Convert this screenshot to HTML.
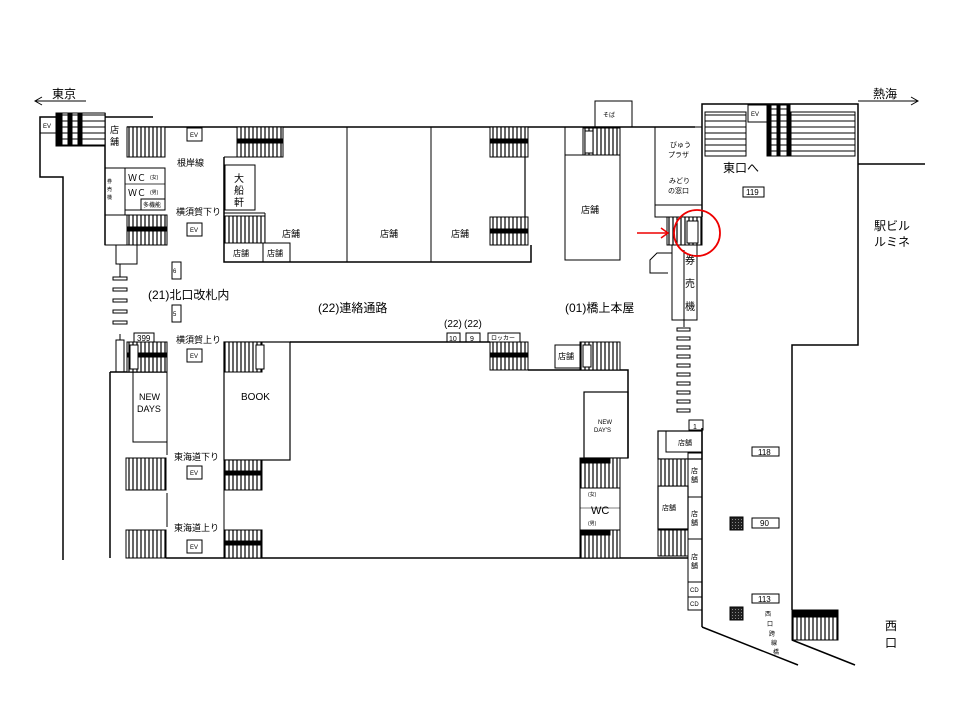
<!DOCTYPE html>
<html><head><meta charset="utf-8"><style>
html,body{margin:0;padding:0;background:#fff;}
svg{display:block;font-family:"Liberation Sans","Noto Sans CJK JP",sans-serif;}
</style></head><body>
<svg width="960" height="720" viewBox="0 0 960 720" xmlns="http://www.w3.org/2000/svg">
<defs>
<pattern id="sv" width="4" height="10" patternUnits="userSpaceOnUse"><rect width="4" height="10" fill="#fff"/><line x1="1" y1="0" x2="1" y2="10" stroke="#000" stroke-width="1.2"/></pattern>
<pattern id="sh" width="10" height="6" patternUnits="userSpaceOnUse"><rect width="10" height="6" fill="#fff"/><line x1="0" y1="1" x2="10" y2="1" stroke="#000" stroke-width="1"/></pattern>
<pattern id="dk" width="3" height="3" patternUnits="userSpaceOnUse"><rect width="3" height="3" fill="#222"/><rect width="1" height="1" fill="#888"/></pattern>
</defs>
<g fill="none" stroke="#000" stroke-width="1.5">
<!-- arrows -->
<line x1="35" y1="101" x2="86" y2="101" stroke-width="1"/><polyline points="42,97 35,101 42,105" stroke-width="1"/>
<line x1="858" y1="101" x2="918" y2="101" stroke-width="1"/><polyline points="911,97 918,101 911,105" stroke-width="1"/>
<!-- left outer -->
<polyline points="153,117 40,117 40,177 63,177 63,560"/>
<line x1="110" y1="372" x2="110" y2="558"/>
<line x1="105" y1="113" x2="105" y2="245"/>
<line x1="127" y1="127" x2="695" y2="127"/>
<line x1="166" y1="558" x2="688" y2="558"/>
<!-- left column -->
<rect x="105" y="168" width="20" height="47" stroke-width="1"/>
<rect x="125" y="168" width="40" height="42" stroke-width="1"/>
<line x1="125" y1="184" x2="165" y2="184" stroke-width="0.7"/>
<rect x="141" y="199" width="24" height="11" stroke-width="1"/>
<rect x="105" y="215" width="22" height="30" stroke-width="1"/>
<rect x="116" y="245" width="21" height="19" stroke-width="1"/>
<line x1="120" y1="264" x2="120" y2="277" stroke-width="1"/>
<line x1="110" y1="372" x2="167" y2="372"/>
<rect x="133" y="372" width="34" height="70" stroke-width="1"/>
<rect x="116" y="340" width="8" height="32" stroke-width="1"/>
<line x1="120" y1="334" x2="120" y2="340" stroke-width="1"/>
<line x1="167" y1="372" x2="167" y2="455" stroke-width="1"/>
<line x1="167" y1="493" x2="167" y2="527" stroke-width="1"/>
<!-- middle top block -->
<polyline points="224,157 224,262 531,262 531,245" />
<line x1="237" y1="127" x2="237" y2="157" stroke-width="1"/>
<line x1="224" y1="157" x2="237" y2="157" stroke-width="1"/>
<rect x="225" y="165" width="30" height="45" stroke-width="1"/>
<line x1="224" y1="213" x2="265" y2="213" stroke-width="1"/>
<line x1="265" y1="213" x2="265" y2="243" stroke-width="1"/>
<rect x="224" y="243" width="39" height="19" stroke-width="1"/>
<rect x="263" y="243" width="27" height="19" stroke-width="1"/>
<line x1="347" y1="127" x2="347" y2="262" stroke-width="1"/>
<line x1="431" y1="127" x2="431" y2="262" stroke-width="1"/>
<line x1="525" y1="157" x2="525" y2="217" stroke-width="1.2"/>
<!-- right top -->
<rect x="595" y="101" width="37" height="26" stroke-width="1"/>
<rect x="565" y="127" width="55" height="133" stroke-width="1"/>
<line x1="565" y1="155" x2="620" y2="155" stroke-width="1"/>
<rect x="655" y="127" width="47" height="78" stroke-width="1"/>
<rect x="655" y="205" width="47" height="12" stroke-width="1"/>
<rect x="672" y="245" width="25" height="75" stroke-width="1"/>
<line x1="684" y1="250" x2="684" y2="320" stroke-width="1"/>
<polyline points="672,253 657,253 650,260 650,273 668,273" stroke-width="1"/>
<line x1="684" y1="320" x2="684" y2="327" stroke-width="1"/>
<!-- east -->
<polyline points="702,127 702,104 858,104 858,345 792,345 792,610"/>
<line x1="858" y1="164" x2="925" y2="164"/>
<line x1="702" y1="127" x2="702" y2="217" stroke-width="1.5"/>
<rect x="748" y="105" width="19" height="17" stroke-width="1"/>
<!-- lower middle -->
<line x1="290" y1="342" x2="490" y2="342"/>
<rect x="224" y="342" width="66" height="118" stroke-width="1.2"/>
<line x1="224" y1="490" x2="224" y2="530" stroke-width="1"/>
<rect x="447" y="333" width="13" height="9" stroke-width="1"/>
<rect x="466" y="333" width="14" height="9" stroke-width="1"/>
<rect x="488" y="333" width="32" height="9" stroke-width="1"/>
<rect x="555" y="345" width="25" height="23" stroke-width="1"/>
<polyline points="528,370 628,370 628,458"/>
<rect x="584" y="392" width="44" height="66" stroke-width="1.2"/>
<rect x="580" y="488" width="40" height="42" stroke-width="1"/>
<line x1="580" y1="508" x2="620" y2="508" stroke-width="0.6"/>
<!-- right lower -->
<rect x="689" y="420" width="14" height="10" stroke-width="1"/>
<rect x="658" y="431" width="44" height="28" stroke-width="1.2"/>
<rect x="666" y="431" width="36" height="21" stroke-width="1"/>
<rect x="658" y="486" width="30" height="43" stroke-width="1.2"/>
<rect x="688" y="453" width="14" height="44" stroke-width="1"/>
<rect x="688" y="497" width="14" height="42" stroke-width="1"/>
<rect x="688" y="539" width="14" height="43" stroke-width="1"/>
<rect x="688" y="582" width="14" height="15" stroke-width="1"/>
<rect x="688" y="597" width="14" height="13" stroke-width="1"/>
<line x1="702" y1="428" x2="702" y2="627"/>
<line x1="702" y1="627" x2="798" y2="665"/>
<line x1="792" y1="640" x2="855" y2="665"/>
<rect x="752" y="447" width="27" height="9" stroke-width="1"/>
<rect x="752" y="518" width="27" height="10" stroke-width="1"/>
<rect x="752" y="594" width="27" height="9" stroke-width="1"/>
<!-- EV boxes -->
<rect x="187" y="128" width="15" height="13" stroke-width="1"/>
<rect x="187" y="223" width="15" height="13" stroke-width="1"/>
<rect x="187" y="349" width="15" height="13" stroke-width="1"/>
<rect x="187" y="466" width="15" height="13" stroke-width="1"/>
<rect x="187" y="540" width="15" height="13" stroke-width="1"/>
<rect x="40" y="117" width="16" height="16" stroke-width="1"/>
<!-- small boxes -->
<rect x="172" y="262" width="9" height="17" stroke-width="1"/>
<rect x="172" y="305" width="9" height="17" stroke-width="1"/>
<rect x="134" y="333" width="20" height="9" stroke-width="1"/>
<rect x="743" y="187" width="21" height="10" stroke-width="1"/>
</g>
<!-- stairs -->
<g stroke="#000" stroke-width="1">
<rect x="56" y="113" width="49" height="33" fill="url(#sh)"/>
<rect x="56" y="113" width="6" height="33" fill="#000"/><rect x="68" y="113" width="4" height="33" fill="#000"/><rect x="78" y="113" width="4" height="33" fill="#000"/>
<rect x="127" y="127" width="38" height="30" fill="url(#sv)"/>
<rect x="127" y="215" width="40" height="30" fill="url(#sv)"/><rect x="127" y="227" width="40" height="4" fill="#000"/>
<rect x="127" y="342" width="40" height="30" fill="url(#sv)"/><rect x="127" y="353" width="40" height="4" fill="#000"/>
<rect x="130" y="345" width="8" height="24" fill="#fff"/>
<rect x="126" y="458" width="40" height="32" fill="url(#sv)"/>
<rect x="126" y="530" width="40" height="28" fill="url(#sv)"/>
<rect x="237" y="127" width="46" height="30" fill="url(#sv)"/><rect x="237" y="139" width="46" height="4" fill="#000"/>
<rect x="225" y="216" width="40" height="27" fill="url(#sv)"/>
<rect x="490" y="127" width="38" height="30" fill="url(#sv)"/><rect x="490" y="139" width="38" height="4" fill="#000"/>
<rect x="490" y="217" width="38" height="28" fill="url(#sv)"/><rect x="490" y="229" width="38" height="4" fill="#000"/>
<rect x="583" y="128" width="37" height="27" fill="url(#sv)"/><rect x="585" y="131" width="8" height="22" fill="#fff"/>
<rect x="667" y="217" width="35" height="28" fill="url(#sv)"/><rect x="687" y="221" width="11" height="22" fill="#fff"/>
<rect x="705" y="112" width="41" height="44" fill="url(#sh)"/>
<rect x="767" y="105" width="23" height="51" fill="url(#sh)"/><rect x="767" y="105" width="4" height="51" fill="#000"/><rect x="777" y="105" width="3" height="51" fill="#000"/><rect x="787" y="105" width="3" height="51" fill="#000"/>
<rect x="791" y="112" width="64" height="44" fill="url(#sh)"/>
<rect x="224" y="342" width="38" height="30" fill="url(#sv)"/><rect x="256" y="345" width="8" height="24" fill="#fff"/>
<rect x="224" y="460" width="38" height="30" fill="url(#sv)"/><rect x="224" y="471" width="38" height="4" fill="#000"/>
<rect x="224" y="530" width="38" height="28" fill="url(#sv)"/><rect x="224" y="541" width="38" height="4" fill="#000"/>
<rect x="490" y="342" width="38" height="28" fill="url(#sv)"/><rect x="490" y="353" width="38" height="4" fill="#000"/>
<rect x="580" y="342" width="40" height="28" fill="url(#sv)"/><rect x="583" y="345" width="8" height="22" fill="#fff"/>
<rect x="580" y="458" width="40" height="30" fill="url(#sv)"/><rect x="580" y="458" width="30" height="5" fill="#000"/>
<rect x="580" y="530" width="40" height="28" fill="url(#sv)"/><rect x="580" y="530" width="30" height="5" fill="#000"/>
<rect x="658" y="459" width="30" height="27" fill="url(#sv)"/>
<rect x="658" y="530" width="30" height="26" fill="url(#sv)"/>
<rect x="792" y="610" width="46" height="30" fill="url(#sv)"/><rect x="792" y="610" width="46" height="7" fill="#000"/>
<!-- gates -->
<g fill="#fff">
<rect x="113" y="277" width="14" height="3"/><rect x="113" y="288" width="14" height="3"/><rect x="113" y="299" width="14" height="3"/><rect x="113" y="310" width="14" height="3"/><rect x="113" y="321" width="14" height="3"/>
<rect x="677" y="328" width="13" height="3"/><rect x="677" y="337" width="13" height="3"/><rect x="677" y="346" width="13" height="3"/><rect x="677" y="355" width="13" height="3"/><rect x="677" y="364" width="13" height="3"/><rect x="677" y="373" width="13" height="3"/><rect x="677" y="382" width="13" height="3"/><rect x="677" y="391" width="13" height="3"/><rect x="677" y="400" width="13" height="3"/><rect x="677" y="409" width="13" height="3"/>
</g>
<rect x="730" y="517" width="13" height="13" fill="url(#dk)"/>
<rect x="730" y="607" width="13" height="13" fill="url(#dk)"/>
</g>
<!-- red -->
<circle cx="697" cy="233" r="23" fill="none" stroke="#e00" stroke-width="1.8"/>
<line x1="637" y1="233" x2="668" y2="233" stroke="#e00" stroke-width="1.5"/>
<polyline points="661,228 668,233 661,238" fill="none" stroke="#e00" stroke-width="1.5"/>
<!-- text -->
<g fill="#000" font-size="9">
<text x="52" y="98" font-size="12">東京</text>
<text x="873" y="98" font-size="12">熱海</text>
<text x="43" y="128" font-size="6">EV</text>
<text x="110" y="133" font-size="9">店</text><text x="110" y="145" font-size="9">舗</text>
<text x="107" y="183" font-size="5">券</text><text x="107" y="191" font-size="5">売</text><text x="107" y="199" font-size="5">機</text>
<text x="128" y="181" font-size="9">ＷＣ</text><text x="150" y="179" font-size="5">(女)</text>
<text x="128" y="196" font-size="9">ＷＣ</text><text x="150" y="194" font-size="5">(男)</text>
<text x="143" y="207" font-size="6">多機能</text>
<text x="177" y="166" font-size="9">根岸線</text>
<text x="176" y="215" font-size="9">横須賀下り</text>
<text x="176" y="343" font-size="9">横須賀上り</text>
<text x="174" y="460" font-size="9">東海道下り</text>
<text x="174" y="531" font-size="9">東海道上り</text>
<g font-size="6"><text x="190" y="137">EV</text><text x="190" y="232">EV</text><text x="190" y="358">EV</text><text x="190" y="475">EV</text><text x="190" y="549">EV</text><text x="751" y="116">EV</text></g>
<text x="148" y="299" font-size="12">(21)北口改札内</text>
<text x="318" y="312" font-size="12">(22)連絡通路</text>
<text x="565" y="312" font-size="12">(01)橋上本屋</text>
<text x="137" y="341" font-size="8">399</text>
<text x="139" y="400" font-size="9">NEW</text><text x="137" y="412" font-size="9">DAYS</text>
<text x="241" y="400" font-size="10">BOOK</text>
<text x="234" y="182" font-size="10">大</text><text x="234" y="194" font-size="10">船</text><text x="234" y="206" font-size="10">軒</text>
<text x="233" y="256" font-size="8">店舗</text><text x="267" y="256" font-size="8">店舗</text>
<text x="282" y="237" font-size="9">店舗</text><text x="380" y="237" font-size="9">店舗</text><text x="451" y="237" font-size="9">店舗</text>
<text x="581" y="213" font-size="9">店舗</text>
<text x="603" y="117" font-size="6">そば</text>
<text x="670" y="147" font-size="7">びゅう</text><text x="668" y="157" font-size="7">プラザ</text>
<text x="669" y="183" font-size="7">みどり</text><text x="668" y="193" font-size="7">の窓口</text>
<text x="723" y="172" font-size="12">東口へ</text>
<text x="746" y="195" font-size="8">119</text>
<text x="874" y="230" font-size="12">駅ビル</text><text x="874" y="246" font-size="12">ルミネ</text>
<text x="685" y="264" font-size="10">券</text><text x="685" y="287" font-size="10">売</text><text x="685" y="310" font-size="10">機</text>
<text x="444" y="327" font-size="10">(22)</text><text x="464" y="327" font-size="10">(22)</text>
<text x="449" y="341" font-size="7">10</text><text x="470" y="341" font-size="7">9</text>
<text x="491" y="340" font-size="6">ロッカー</text>
<text x="558" y="359" font-size="8">店舗</text>
<text x="598" y="424" font-size="6">NEW</text><text x="594" y="432" font-size="6">DAY'S</text>
<text x="588" y="496" font-size="5">(女)</text><text x="591" y="514" font-size="11">WC</text><text x="588" y="525" font-size="5">(男)</text>
<text x="693" y="429" font-size="7">1</text>
<text x="678" y="445" font-size="7">店舗</text>
<text x="662" y="510" font-size="7">店舗</text>
<text x="691" y="473" font-size="7">店</text><text x="691" y="482" font-size="7">舗</text>
<text x="691" y="516" font-size="7">店</text><text x="691" y="525" font-size="7">舗</text>
<text x="691" y="559" font-size="7">店</text><text x="691" y="568" font-size="7">舗</text>
<text x="690" y="592" font-size="6">CD</text><text x="690" y="606" font-size="6">CD</text>
<text x="758" y="455" font-size="8">118</text><text x="760" y="526" font-size="8">90</text><text x="758" y="602" font-size="8">113</text>
<text x="765" y="616" font-size="6">西</text><text x="767" y="626" font-size="6">口</text><text x="769" y="636" font-size="6">跨</text><text x="771" y="645" font-size="6">線</text><text x="773" y="654" font-size="6">橋</text>
<text x="885" y="630" font-size="12">西</text><text x="885" y="647" font-size="12">口</text>
<text x="173" y="273" font-size="6">6</text><text x="173" y="316" font-size="6">5</text>
</g>
</svg>
</body></html>
